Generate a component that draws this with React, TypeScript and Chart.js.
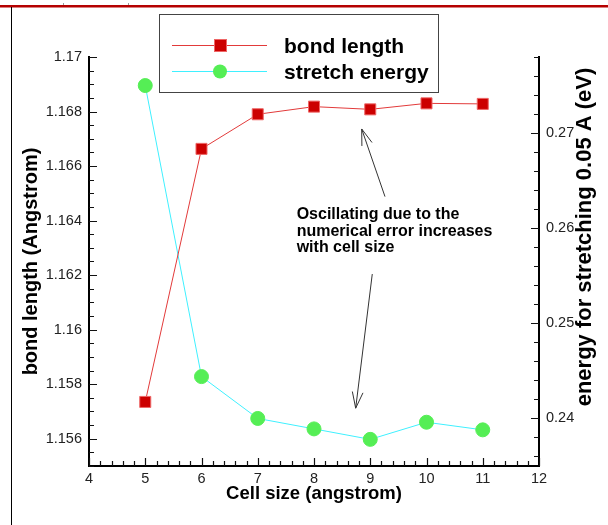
import React, { useEffect, useRef } from "react";
import { Chart, registerables } from "chart.js";

Chart.register(...registerables);

// ---- data ----
const cellSizes = [5, 6, 7, 8, 9, 10, 11];
const bondLength = [1.15735, 1.16663, 1.1679, 1.16818, 1.16808, 1.1683, 1.16828];
const stretchEnergy = [0.275, 0.2444, 0.24, 0.2389, 0.2378, 0.2396, 0.2388];

const xTicks = [4, 5, 6, 7, 8, 9, 10, 11, 12];
const bondTicks = [1.156, 1.158, 1.16, 1.162, 1.164, 1.166, 1.168, 1.17];
const energyTicks = [0.24, 0.25, 0.26, 0.27];

const legendLabels = ["bond length", "stretch energy"];
const noteLines = ["Oscillating due to the", "numerical error increases", "with cell size"];
// annotation anchors in data coordinates (x, bond-length axis)
const noteAnchor = { x: 7.692, y: 1.16406 };
const arrowUp = { x0: 9.262, y0: 1.16488, x1: 8.848, y1: 1.16736 };
const arrowDown = { x0: 9.036, y0: 1.16204, x1: 8.741, y1: 1.15712 };

const FONT = '"Liberation Sans", Arial, Helvetica, sans-serif';
const RED_LINE = "#e23a3a";
const RED_FILL = "#cc0000";
const CYAN = "#3ff0ff";
const GREEN = "#55ee55";

const near = (a: number, arr: number[]) => arr.some((t) => Math.abs(t - a) < 1e-9);

const decorPlugin = {
  id: "decor",
  afterDraw(chart: any) {
    const ctx = chart.ctx as CanvasRenderingContext2D;
    const xs = chart.scales.x;
    const ys = chart.scales.y;
    const y2 = chart.scales.y2;
    const area = chart.chartArea;
    ctx.save();

    // slide decorations
    ctx.fillStyle = "#b50000";
    ctx.fillRect(0, 5, 608, 2.5);
    ctx.fillStyle = "#000";
    ctx.fillRect(11, 7, 1, 518);
    ctx.fillStyle = "#999";
    ctx.fillRect(63, 3, 1, 2);
    ctx.fillRect(128, 3, 1, 2);

    // inward ticks
    ctx.strokeStyle = "#111";
    ctx.lineWidth = 1.2;
    ctx.beginPath();
    for (let i = 0; i <= 40; i++) {
      const v = 4 + i * 0.2;
      const len = near(v, xTicks) ? 8 : 5;
      const px = Math.round(xs.getPixelForValue(v)) + 0.5;
      ctx.moveTo(px, area.bottom);
      ctx.lineTo(px, area.bottom - len);
    }
    for (let i = 0; i <= 30; i++) {
      const v = 1.155 + i * 0.0005;
      const len = near(v, bondTicks) ? 8 : 5;
      const py = Math.round(ys.getPixelForValue(v)) + 0.5;
      ctx.moveTo(area.left, py);
      ctx.lineTo(area.left + len, py);
    }
    for (let i = 0; i <= 21; i++) {
      const v = 0.278 - i * 0.002;
      if (v < 0.235) break;
      const len = near(v, energyTicks) ? 8 : 5;
      const py = Math.round(y2.getPixelForValue(v)) + 0.5;
      ctx.moveTo(area.right, py);
      ctx.lineTo(area.right - len, py);
    }
    ctx.stroke();

    // right axis title (reads bottom to top)
    ctx.save();
    ctx.translate(585, 237);
    ctx.rotate(-Math.PI / 2);
    ctx.fillStyle = "#000";
    ctx.font = `bold 22px ${FONT}`;
    ctx.textAlign = "center";
    ctx.textBaseline = "middle";
    ctx.fillText("energy for stretching 0.05 A (eV)", 0, 0);
    ctx.restore();

    // legend box
    ctx.strokeStyle = "#444";
    ctx.lineWidth = 1;
    ctx.strokeRect(159.5, 14.5, 279, 78);
    const rows = [45, 71];
    ctx.font = `bold 21px ${FONT}`;
    ctx.textAlign = "left";
    ctx.textBaseline = "alphabetic";
    rows.forEach((ry, i) => {
      ctx.strokeStyle = i === 0 ? RED_LINE : CYAN;
      ctx.lineWidth = 1;
      ctx.beginPath();
      ctx.moveTo(172, ry + 0.5);
      ctx.lineTo(267, ry + 0.5);
      ctx.stroke();
      if (i === 0) {
        ctx.fillStyle = RED_FILL;
        ctx.fillRect(215, ry - 5, 11, 11);
        ctx.strokeStyle = "#ee6666";
        ctx.strokeRect(214.5, ry - 5.5, 12, 12);
      } else {
        ctx.fillStyle = GREEN;
        ctx.beginPath();
        ctx.arc(220, ry + 0.5, 7, 0, Math.PI * 2);
        ctx.fill();
      }
      ctx.fillStyle = "#000";
      ctx.fillText(legendLabels[i], 284, ry + 7.5);
    });

    // annotation
    const tx = xs.getPixelForValue(noteAnchor.x);
    const ty = ys.getPixelForValue(noteAnchor.y);
    ctx.font = `bold 16px ${FONT}`;
    ctx.fillStyle = "#000";
    noteLines.forEach((line, i) => ctx.fillText(line, tx, ty + i * 16.6));

    const arrow = (a: any) => {
      const x0 = xs.getPixelForValue(a.x0);
      const y0 = ys.getPixelForValue(a.y0);
      const x1 = xs.getPixelForValue(a.x1);
      const y1 = ys.getPixelForValue(a.y1);
      const ang = Math.atan2(y1 - y0, x1 - x0);
      ctx.strokeStyle = "#333";
      ctx.lineWidth = 1;
      ctx.beginPath();
      ctx.moveTo(x0, y0);
      ctx.lineTo(x1, y1);
      for (const s of [-0.32, 0.32]) {
        ctx.moveTo(x1, y1);
        ctx.lineTo(x1 - 17 * Math.cos(ang + s), y1 - 17 * Math.sin(ang + s));
      }
      ctx.stroke();
    };
    arrow(arrowUp);
    arrow(arrowDown);

    ctx.restore();
  },
};

export default function App() {
  const ref = useRef<HTMLCanvasElement | null>(null);

  useEffect(() => {
    if (!ref.current) return;
    const tickFont = { family: FONT, size: 14.5 };
    const chart = new Chart(ref.current, {
      type: "line",
      data: {
        datasets: [
          {
            label: legendLabels[0],
            data: cellSizes.map((c, i) => ({ x: c, y: bondLength[i] })),
            yAxisID: "y",
            borderColor: RED_LINE,
            borderWidth: 1,
            pointStyle: "rect",
            pointRadius: 7.8,
            pointBackgroundColor: RED_FILL,
            pointBorderColor: "#ee6666",
            pointBorderWidth: 1,
            tension: 0,
          },
          {
            label: legendLabels[1],
            data: cellSizes.map((c, i) => ({ x: c, y: stretchEnergy[i] })),
            yAxisID: "y2",
            borderColor: CYAN,
            borderWidth: 1,
            pointStyle: "circle",
            pointRadius: 7,
            pointBackgroundColor: GREEN,
            pointBorderColor: GREEN,
            pointBorderWidth: 1,
            tension: 0,
          },
        ],
      },
      options: {
        responsive: false,
        animation: false,
        layout: { padding: { top: 57, left: 0, right: 0, bottom: 0 } },
        plugins: { legend: { display: false }, tooltip: { enabled: false } },
        scales: {
          x: {
            type: "linear",
            position: "bottom",
            min: 4,
            max: 12,
            afterFit: (s: any) => {
              s.height = 59;
            },
            afterBuildTicks: (s: any) => {
              s.ticks = xTicks.map((v) => ({ value: v }));
            },
            grid: { display: false, drawTicks: false },
            border: { display: true, color: "#000", width: 2 },
            ticks: {
              font: tickFont,
              color: "#222",
              padding: 4,
              maxRotation: 0,
              autoSkip: false,
              callback: (v: any) => String(v),
            },
            title: {
              display: true,
              text: "Cell size (angstrom)",
              color: "#000",
              font: { family: FONT, size: 18.5, weight: "bold" },
              padding: { top: 0, bottom: 20 },
            },
          },
          y: {
            type: "linear",
            position: "left",
            min: 1.155,
            max: 1.17,
            afterFit: (s: any) => {
              s.width = 89;
            },
            afterBuildTicks: (s: any) => {
              s.ticks = bondTicks.map((v) => ({ value: v }));
            },
            grid: { display: false, drawTicks: false },
            border: { display: true, color: "#000", width: 2 },
            ticks: {
              font: tickFont,
              color: "#222",
              padding: 7,
              autoSkip: false,
              callback: (v: any) => String(v),
            },
            title: {
              display: true,
              text: "bond length (Angstrom)",
              color: "#000",
              font: { family: FONT, size: 20, weight: "bold" },
              padding: { top: 19, bottom: 0 },
            },
          },
          y2: {
            type: "linear",
            position: "right",
            min: 0.235,
            max: 0.278,
            afterFit: (s: any) => {
              s.width = 69;
            },
            afterBuildTicks: (s: any) => {
              s.ticks = energyTicks.map((v) => ({ value: v }));
            },
            grid: { display: false, drawTicks: false },
            border: { display: true, color: "#000", width: 2 },
            ticks: {
              font: tickFont,
              color: "#222",
              padding: 7,
              autoSkip: false,
              callback: (v: any) => String(v),
            },
          },
        },
      },
      plugins: [decorPlugin],
    } as any);
    return () => chart.destroy();
  }, []);

  return (
    <canvas
      ref={ref}
      width={608}
      height={525}
      style={{ position: "absolute", left: 0, top: 0, display: "block" }}
    />
  );
}
